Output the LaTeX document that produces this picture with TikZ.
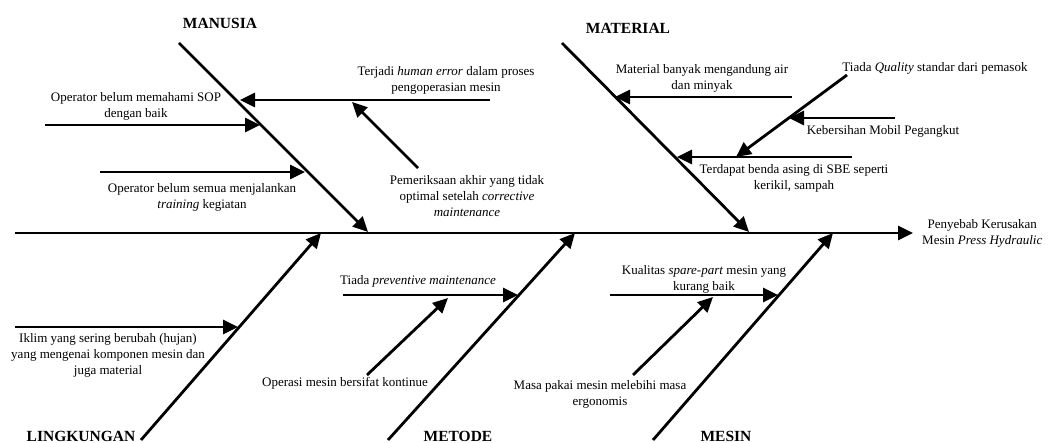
\documentclass[tikz,border=0pt]{standalone}
\usepackage{fontspec}
\setmainfont{Liberation Serif}
\usetikzlibrary{arrows.meta,positioning}

\begin{document}
\begin{tikzpicture}[x=1pt, y=-1pt, font=\fontsize{13}{16}\selectfont,
  bone/.style={line width=2.8pt, -{Triangle[length=15pt,width=14pt]}},
  cause/.style={align=center, inner sep=0pt},
  category/.style={font=\fontsize{15.5}{18}\selectfont\bfseries, inner sep=0pt}]
  \useasboundingbox (0,0) rectangle (1050,443);

  % Spine and effect
  \coordinate (tail) at (15,233);
  \coordinate (head) at (913,233);
  \node[cause, right=9pt of head] (effect) {Penyebab Kerusakan\\Mesin \textit{Press Hydraulic}};
  \draw[bone] (tail) -- (head);

  % Categories
  \node[category] (manusia) at (220,23) {MANUSIA};
  \node[category] (material) at (628,28) {MATERIAL};
  \node[category] (lingkungan) at (81,436) {LINGKUNGAN};
  \node[category] (metode) at (458,436) {METODE};
  \node[category] (mesin) at (726,436) {MESIN};

  % Main bones
  \coordinate (manusiaA) at (179,43);  \coordinate (manusiaB) at (368,232);
  \coordinate (materialA) at (562,43); \coordinate (materialB) at (749,232);
  \coordinate (lingkA) at (141,440);   \coordinate (lingkB) at (321,233);
  \coordinate (metodeA) at (388,440);  \coordinate (metodeB) at (575,233);
  \coordinate (mesinA) at (653,440);   \coordinate (mesinB) at (833,233);
  \draw[bone] (manusiaA) -- (manusiaB);
  \draw[bone] (materialA) -- (materialB);
  \draw[bone] (lingkA) -- (lingkB);
  \draw[bone] (metodeA) -- (metodeB);
  \draw[bone] (mesinA) -- (mesinB);

  % Manusia causes
  \node[cause] (sop) at (136,106) {Operator belum memahami SOP\\dengan baik};
  \node[cause] (training) at (202,197) {Operator belum semua menjalankan\\\textit{training} kegiatan};
  \node[cause] (humanerr) at (446,80) {Terjadi \textit{human error} dalam proses\\pengoperasian mesin};
  \node[cause] (periksa) at (467,196) {Pemeriksaan akhir yang tidak\\optimal setelah \textit{corrective}\\\textit{maintenance}};
  \coordinate (sopA) at (45,125);      \coordinate (sopB) at (260,125);
  \coordinate (trainA) at (100,172);   \coordinate (trainB) at (305,172);
  \coordinate (humanA) at (490,100);   \coordinate (humanB) at (240,100);
  \coordinate (periksaA) at (418,168); \coordinate (periksaB) at (352,102);
  \draw[bone] (sopA) -- (sopB);
  \draw[bone] (trainA) -- (trainB);
  \draw[bone] (humanA) -- (humanB);
  \draw[bone] (periksaA) -- (periksaB);

  % Material causes
  \node[cause] (airminyak) at (702,78) {Material banyak mengandung air\\dan minyak};
  \node[cause] (quality) at (935,68) {Tiada \textit{Quality} standar dari pemasok};
  \node[cause] (mobil) at (883,131) {Kebersihan Mobil Pegangkut};
  \node[cause] (asing) at (794,178) {Terdapat benda asing di SBE seperti\\kerikil, sampah};
  \coordinate (airA) at (792,97);      \coordinate (airB) at (615,97);
  \coordinate (qualA) at (847,75);     \coordinate (qualB) at (736,157);
  \coordinate (mobilA) at (895,118);   \coordinate (mobilB) at (789,118);
  \coordinate (asingA) at (852,157);   \coordinate (asingB) at (677,157);
  \draw[bone] (airA) -- (airB);
  \draw[bone] (qualA) -- (qualB);
  \draw[bone] (mobilA) -- (mobilB);
  \draw[bone] (asingA) -- (asingB);

  % Lingkungan causes
  \node[cause] (iklim) at (108,355) {Iklim yang sering berubah (hujan)\\yang mengenai komponen mesin dan\\juga material};
  \coordinate (iklimA) at (15,327);    \coordinate (iklimB) at (238,327);
  \draw[bone] (iklimA) -- (iklimB);

  % Metode causes
  \node[cause] (preventive) at (418,281) {Tiada \textit{preventive maintenance}};
  \node[cause] (kontinue) at (345,383) {Operasi mesin bersifat kontinue};
  \coordinate (prevA) at (343,295);    \coordinate (prevB) at (518,295);
  \coordinate (kontA) at (367,375);    \coordinate (kontB) at (448,298);
  \draw[bone] (prevA) -- (prevB);
  \draw[bone] (kontA) -- (kontB);

  % Mesin causes
  \node[cause] (sparepart) at (704,279) {Kualitas \textit{spare-part} mesin yang\\kurang baik};
  \node[cause] (masapakai) at (600,394) {Masa pakai mesin melebihi masa\\ergonomis};
  \coordinate (spareA) at (610,295);   \coordinate (spareB) at (778,295);
  \coordinate (masaA) at (633,375);    \coordinate (masaB) at (713,297);
  \draw[bone] (spareA) -- (spareB);
  \draw[bone] (masaA) -- (masaB);
\end{tikzpicture}
\end{document}
